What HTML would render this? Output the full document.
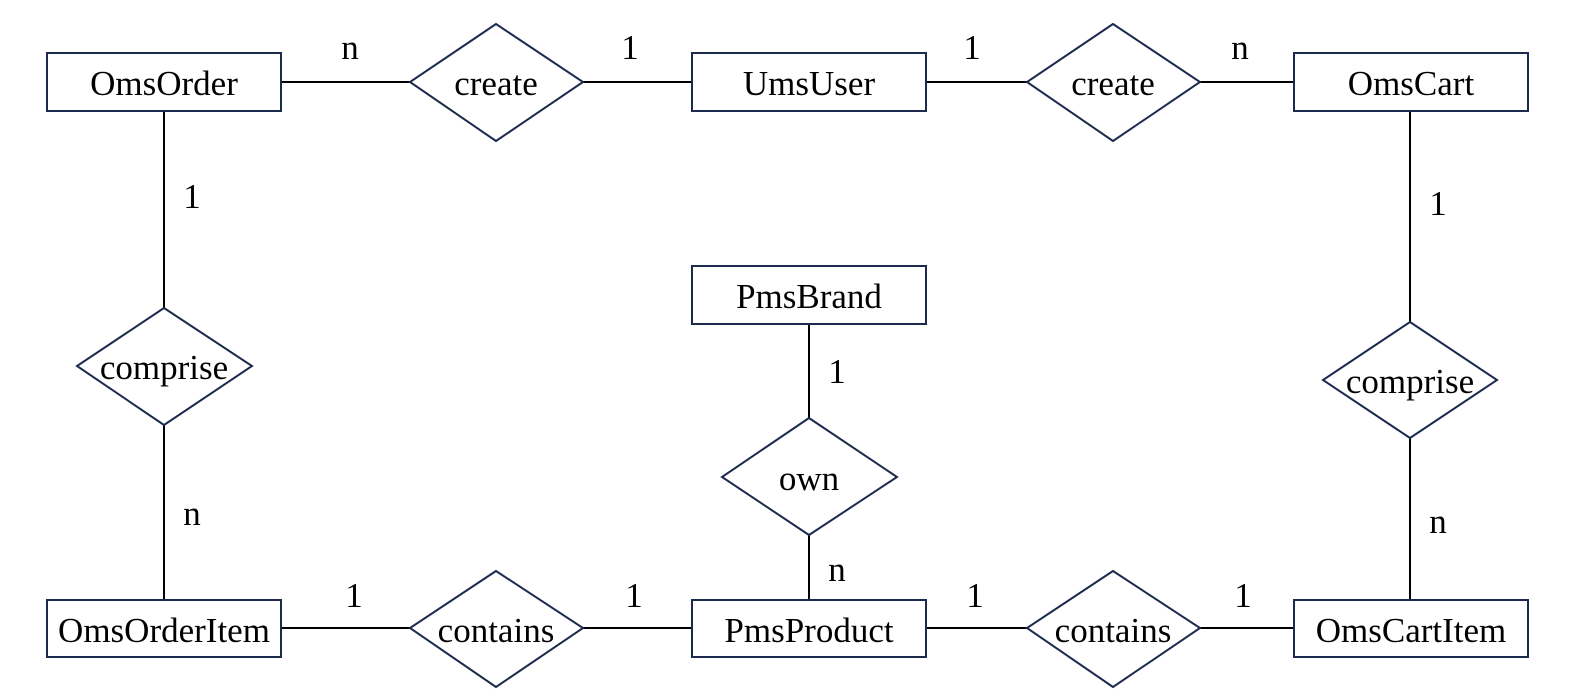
<!DOCTYPE html>
<html><head><meta charset="utf-8"><style>
html,body{margin:0;padding:0;background:#fff;width:1577px;height:691px;overflow:hidden}
svg text{font-family:"Liberation Serif",serif;font-size:35px;fill:#000}
</style></head><body>
<svg width="1577" height="691" viewBox="0 0 1577 691" xmlns="http://www.w3.org/2000/svg">
<g stroke="#000" stroke-width="2" fill="none">
<line x1="281" y1="82" x2="410" y2="82"/>
<line x1="583" y1="82" x2="692" y2="82"/>
<line x1="926" y1="82" x2="1027" y2="82"/>
<line x1="1200" y1="82" x2="1294" y2="82"/>
<line x1="281" y1="628" x2="410" y2="628"/>
<line x1="583" y1="628" x2="692" y2="628"/>
<line x1="926" y1="628" x2="1027" y2="628"/>
<line x1="1200" y1="628" x2="1294" y2="628"/>
<line x1="164" y1="111" x2="164" y2="308"/>
<line x1="164" y1="425" x2="164" y2="600"/>
<line x1="1410" y1="111" x2="1410" y2="322"/>
<line x1="1410" y1="438" x2="1410" y2="600"/>
<line x1="809" y1="324" x2="809" y2="418"/>
<line x1="809" y1="535" x2="809" y2="600"/>
</g>
<g stroke="#1c2a4e" stroke-width="2" fill="#fff">
<rect x="47" y="53" width="234" height="58"/>
<rect x="692" y="53" width="234" height="58"/>
<rect x="1294" y="53" width="234" height="58"/>
<rect x="692" y="266" width="234" height="58"/>
<rect x="47" y="600" width="234" height="57"/>
<rect x="692" y="600" width="234" height="57"/>
<rect x="1294" y="600" width="234" height="57"/>
<polygon points="496,24 583,82 496,141 410,82"/>
<polygon points="1113,24 1200,82 1113,141 1027,82"/>
<polygon points="164,308 252,366 164,425 77,366"/>
<polygon points="1410,322 1497,380 1410,438 1323,380"/>
<polygon points="809,418 897,477 809,535 722,477"/>
<polygon points="496,571 583,628 496,687 410,628"/>
<polygon points="1113,571 1200,628 1113,687 1027,628"/>
</g>
<g text-anchor="middle">
<text x="164" y="95">OmsOrder</text>
<text x="809" y="95">UmsUser</text>
<text x="1411" y="95">OmsCart</text>
<text x="809" y="308">PmsBrand</text>
<text x="164" y="642">OmsOrderItem</text>
<text x="809" y="642">PmsProduct</text>
<text x="1411" y="642">OmsCartItem</text>
<text x="496" y="95">create</text>
<text x="1113" y="95">create</text>
<text x="164" y="379">comprise</text>
<text x="1410" y="393">comprise</text>
<text x="809" y="490">own</text>
<text x="496" y="642">contains</text>
<text x="1113" y="642">contains</text>
<text x="350" y="59">n</text>
<text x="630" y="59">1</text>
<text x="972" y="59">1</text>
<text x="1240" y="59">n</text>
<text x="192" y="208">1</text>
<text x="192" y="525">n</text>
<text x="1438" y="215">1</text>
<text x="1438" y="533">n</text>
<text x="837" y="383">1</text>
<text x="837" y="581">n</text>
<text x="354" y="607">1</text>
<text x="634" y="607">1</text>
<text x="975" y="607">1</text>
<text x="1243" y="607">1</text>
</g>
</svg>
</body></html>
